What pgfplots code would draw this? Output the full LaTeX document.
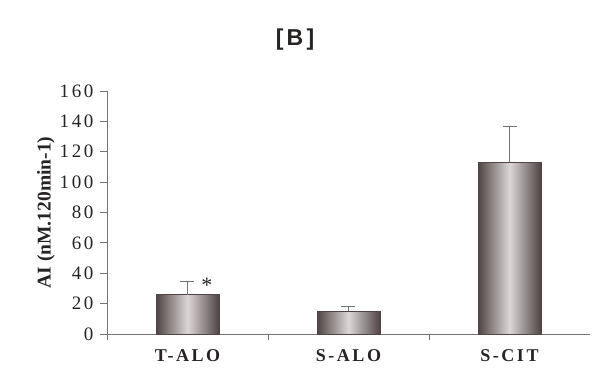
\documentclass[border=0pt]{standalone}
\usepackage{fontspec}
\setmainfont{Liberation Serif}
\newfontfamily\titlefont[LetterSpace=14]{Liberation Sans}
\newfontfamily\spacedserif[LetterSpace=14]{Liberation Serif}
\usepackage{pgfplots}
\pgfplotsset{compat=1.18}

\definecolor{axisgray}{RGB}{120,115,115}
\definecolor{inkdark}{RGB}{40,35,35}
\definecolor{baredge}{RGB}{80,68,68}
\definecolor{barmid}{RGB}{220,215,215}

\pgfplotsset{
  cylbar/.style={
    ybar, bar width=0.39, draw=baredge, line width=0.4pt,
    left color=baredge, right color=baredge, middle color=barmid,
    error bars/.cd, y dir=plus, y explicit,
    error bar style={axisgray, line width=0.8pt},
    error mark options={rotate=90, mark size=7pt, axisgray, line width=0.8pt},
  },
}

\begin{document}
\begin{tikzpicture}
\begin{axis}[
  scale only axis,
  width=483pt, height=243pt,
  xmin=-0.5, xmax=2.5,
  ymin=0, ymax=160,
  ytick={0,20,...,160},
  xtick={0,1,2},
  xticklabels={T-ALO, S-ALO, S-CIT},
  minor xtick={-0.5,0.5,1.5},
  axis x line*=bottom,
  axis y line*=left,
  axis line style={axisgray, line width=0.8pt},
  every tick/.style={axisgray, line width=0.8pt},
  major x tick style={draw=none},
  tick align=outside,
  major tick length=7pt,
  minor tick length=6pt,
  /pgf/number format/assume math mode=true,
  yticklabel style={font=\spacedserif\fontsize{19}{19}\selectfont, text=inkdark, xshift=-3pt},
  xticklabel style={font=\spacedserif\bfseries\fontsize{18}{18}\selectfont, text=inkdark, yshift=-5pt},
  ylabel={AI (nM.120min-1)},
  ylabel style={font=\bfseries\fontsize{19.5}{19.5}\selectfont, text=inkdark, yshift=-2pt},
  clip=false,
]
% one plot per bar so each gets its own cylinder shading
\addplot[cylbar] coordinates {(0,26) +- (0,8.5)};
\addplot[cylbar] coordinates {(1,15) +- (0,3)};
\addplot[cylbar] coordinates {(2,113) +- (0,24)};
\node[font=\fontsize{22}{22}\selectfont, text=inkdark] at (axis cs:0.12,32) {*};
\end{axis}
\node[font=\titlefont\bfseries\fontsize{23}{23}\selectfont, text=inkdark] at (188pt,294pt) {[B]};
\pgfresetboundingbox
\path (-107pt,-39pt) rectangle (490pt,334pt);
\end{tikzpicture}
\end{document}
